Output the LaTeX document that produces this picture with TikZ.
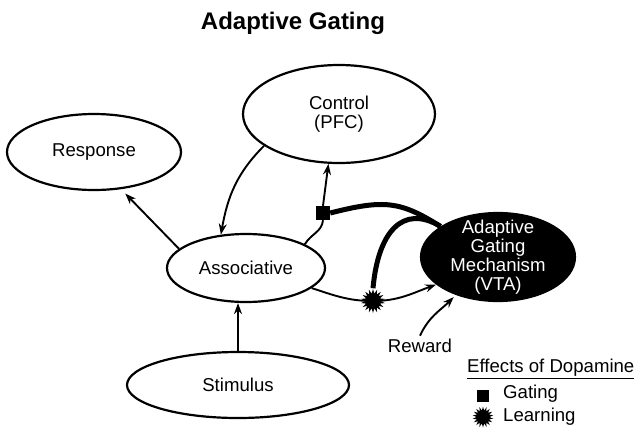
\documentclass[tikz,border=0pt]{standalone}
\usepackage{fontspec}
\setmainfont{Liberation Sans}
\usetikzlibrary{shapes.geometric,arrows.meta}
\newcommand{\txt}{\fontsize{18.6}{19}\selectfont}
\begin{document}
\begin{tikzpicture}[x=1pt,y=-1pt,
    area/.style={ellipse,draw,line width=2.2pt,inner sep=0pt,align=center,font=\txt},
    arr/.style={-{Stealth[length=11pt,width=8pt]},line width=1.9pt},
    dopa/.style={line width=5pt},
    gatemark/.style={fill=black,minimum size=14pt,inner sep=0pt},
    learnmark/.style={star,star points=18,star point ratio=1.6,fill=black,minimum size=24pt,inner sep=0pt}]
    \useasboundingbox (0,0) rectangle (635,429);

    % Title
    \node[font=\fontsize{24}{26}\selectfont\bfseries] (title) at (293,23) {Adaptive Gating};

    % Areas
    \node[area,minimum width=192pt,minimum height=98pt] (ctrl) at (339,114) {Control\\(PFC)};
    \node[area,minimum width=174pt,minimum height=76pt] (resp) at (94,152) {Response};
    \node[area,minimum width=158pt,minimum height=68pt] (assoc) at (246,268) {Associative};
    \node[area,minimum width=222pt,minimum height=66pt] (stim) at (238,385) {Stimulus};
    \node[area,fill=black,text=white,inner ysep=-8pt,minimum width=154pt,minimum height=88pt] (vta) at (498,257) {Adaptive\\Gating\\Mechanism\\(VTA)};
    \node[font=\txt] (reward) at (420,346) {Reward};

    % Dopamine marks
    \node[gatemark] (gate) at (323,213) {};
    \node[learnmark] (learn) at (373,301) {};

    % Pathways
    \draw[arr,shorten >=6pt] (assoc.164) -- (resp.-54);
    \draw[arr] (stim.north) -- (stim.north |- assoc.south);
    \draw[arr] (ctrl.203) to[out=225,in=80] (assoc.127);
    \draw[line width=1.9pt] (assoc.22) to[out=60,in=-95] (gate.south);
    \draw[arr] (gate.north) -- (ctrl.258);
    \draw[arr] (assoc.-17) to[out=-18,in=180] (learn.center) to[out=0,in=200] (vta.204);
    \draw[arr,shorten >=3pt] (reward.north) to[out=65,in=225] (vta.222);

    % Dopamine effects
    \draw[dopa] (gate.east) .. controls +(55,-14) and +(-40,-25) .. (vta.152);
    \draw[dopa] (learn.north) .. controls +(5,-56) and +(-38,-23) .. (vta.152);

    % Legend
    \node[anchor=west,inner sep=0pt,font=\txt] (fx) at (467,369) {\underline{Effects of Dopamine}};
    \node[gatemark,minimum size=12pt] (gkey) at (483,396) {};
    \node[anchor=west,inner sep=0pt,font=\txt] (gtxt) at (503,394) {Gating};
    \node[learnmark,minimum size=21pt] (lkey) at (483,417) {};
    \node[anchor=west,inner sep=0pt,font=\txt] (ltxt) at (503,417) {Learning};
\end{tikzpicture}
\end{document}
